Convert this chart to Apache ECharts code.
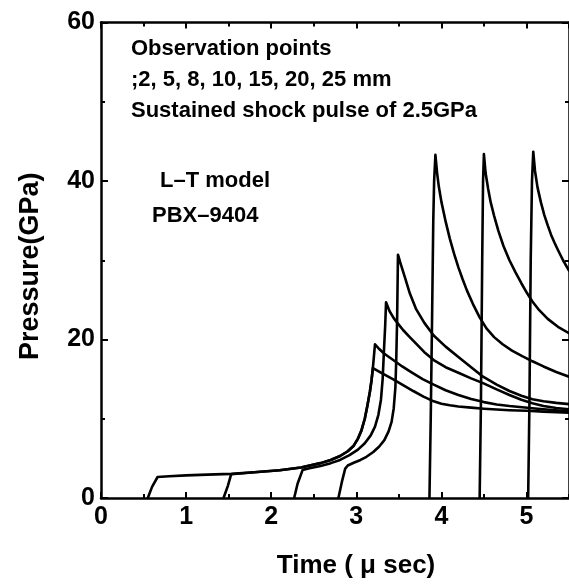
<!DOCTYPE html>
<html>
<head>
<meta charset="utf-8">
<script src="https://cdn.jsdelivr.net/npm/echarts@6/dist/echarts.min.js"></script>
<style>
html,body{margin:0;padding:0;background:#fff;}
#chart{width:569px;height:584px;}
</style>
</head>
<body>
<div id="chart"></div>
<script>
// ---- data (time in microseconds, pressure in GPa) ----
const gauge2mm = [[0.55,0],[0.60,1.4],[0.665,2.65],[0.8,2.75],[1.0,2.85],[1.25,2.95],[1.53,3.05],[1.8,3.25],[2.1,3.5],[2.35,3.85],[2.58,4.4],[2.7,4.8],[2.81,5.3],[2.9,5.9],[2.97,6.6],[3.02,7.5],[3.06,8.5],[3.1,10.0],[3.13,11.6],[3.16,13.4],[3.18,14.9],[3.195,16.4],[3.3,15.75],[3.43,15.0],[3.55,14.25],[3.67,13.5],[3.79,12.8],[3.91,12.2],[4.0,11.9],[4.1,11.7],[4.2,11.55],[4.35,11.4],[4.5,11.27],[4.65,11.17],[4.8,11.08],[5.0,11.0],[5.2,10.9],[5.5,10.75]];
const gauge5mm = [[1.44,0],[1.49,1.5],[1.53,3.0],[1.8,3.25],[2.1,3.5],[2.35,3.85],[2.58,4.4],[2.7,4.8],[2.81,5.3],[2.9,5.9],[2.97,6.6],[3.02,7.5],[3.06,8.5],[3.1,10.0],[3.13,11.6],[3.16,13.4],[3.18,14.9],[3.195,16.4],[3.205,17.6],[3.22,19.4],[3.27,18.8],[3.33,18.2],[3.43,17.45],[3.54,16.6],[3.65,15.85],[3.78,15.0],[3.91,14.3],[4.05,13.6],[4.2,13.0],[4.35,12.5],[4.5,12.1],[4.65,11.8],[4.8,11.6],[4.95,11.45],[5.1,11.3],[5.3,11.1],[5.5,10.95]];
const gauge8mm = [[2.27,0],[2.31,1.8],[2.37,3.55],[2.45,3.75],[2.58,4.05],[2.7,4.4],[2.81,4.8],[2.92,5.4],[3.02,6.1],[3.1,6.9],[3.17,7.9],[3.22,9.0],[3.26,10.5],[3.29,12.4],[3.31,15.0],[3.325,18.5],[3.34,21.8],[3.35,24.7],[3.39,23.6],[3.44,22.7],[3.49,22.0],[3.55,21.2],[3.62,20.4],[3.7,19.5],[3.8,18.4],[3.91,17.4],[4.05,16.5],[4.2,15.8],[4.35,15.1],[4.49,14.5],[4.65,13.7],[4.8,13.0],[4.94,12.4],[5.07,11.95],[5.2,11.6],[5.35,11.35],[5.5,11.2]];
const gauge10mm = [[2.79,0],[2.83,2.0],[2.87,3.7],[2.9,4.1],[2.97,4.45],[3.05,4.8],[3.12,5.2],[3.2,5.8],[3.27,6.5],[3.33,7.3],[3.38,8.4],[3.415,9.6],[3.44,11.3],[3.46,14.0],[3.47,17.5],[3.48,22.5],[3.49,30.7],[3.52,29.6],[3.57,27.9],[3.63,25.8],[3.7,23.9],[3.8,22.1],[3.91,20.5],[4.05,19.1],[4.2,17.8],[4.35,16.5],[4.49,15.3],[4.65,14.3],[4.8,13.5],[4.94,12.9],[5.07,12.45],[5.2,12.2],[5.35,12.0],[5.5,11.85]];
const gauge15mm = [[3.86,0],[3.875,10],[3.89,22],[3.905,35],[3.915,40],[3.93,43.3],[3.95,41.0],[3.97,39.3],[4.0,37.4],[4.05,34.9],[4.1,32.7],[4.15,30.8],[4.2,29.1],[4.25,27.6],[4.3,26.2],[4.37,24.5],[4.45,22.8],[4.53,21.4],[4.62,20.3],[4.72,19.4],[4.83,18.6],[4.95,17.9],[5.07,17.25],[5.2,16.6],[5.35,15.9],[5.5,15.3]];
const gauge20mm = [[4.45,0],[4.465,12],[4.48,30],[4.49,40],[4.50,43.4],[4.52,41.0],[4.55,39.0],[4.58,37.3],[4.62,35.6],[4.67,33.7],[4.73,31.8],[4.8,30.0],[4.87,28.5],[4.94,27.1],[5.01,25.8],[5.07,24.8],[5.15,23.7],[5.25,22.6],[5.37,21.6],[5.5,20.8]];
const gauge25mm = [[5.02,0],[5.035,12],[5.05,30],[5.065,40],[5.08,43.7],[5.10,41.3],[5.13,39.2],[5.17,37.3],[5.21,35.7],[5.25,34.4],[5.29,33.2],[5.33,32.2],[5.37,31.3],[5.43,30.0],[5.5,28.7]];

const gaugeNames = ['2 mm','5 mm','8 mm','10 mm','15 mm','20 mm','25 mm'];
const gaugeData = [gauge2mm, gauge5mm, gauge8mm, gauge10mm, gauge15mm, gauge20mm, gauge25mm];

const noteLines = ['Observation points', ';2, 5, 8, 10, 15, 20, 25 mm', 'Sustained shock pulse of 2.5GPa'];
const modelLines = ['L\u2013T model', 'PBX\u20139404'];
const xTitle = 'Time ( \u03bc sec)';
const yTitle = 'Pressure(GPa)';

// ---- chart ----
const FONT = '"Liberation Sans", Arial, Helvetica, sans-serif';
const chart = echarts.init(document.getElementById('chart'), null, {renderer: 'canvas'});

const lineStyle = {color: '#000', width: 2.5};
function xAxisDef(pos, interval, tickLen, showLine, showLabel, extra) {
  return Object.assign({
    type: 'value', position: pos, min: 0, max: 5.5, interval: interval,
    axisLine: {show: showLine, onZero: false, lineStyle: lineStyle},
    axisTick: {show: true, inside: true, length: tickLen, lineStyle: {color: '#000', width: 2}},
    axisLabel: {show: showLabel, showMaxLabel: false, color: '#000', fontSize: 25, fontWeight: 'bold', fontFamily: FONT, margin: 7},
    splitLine: {show: false}
  }, extra || {});
}
function yAxisDef(pos, showLabel, extra) {
  return Object.assign({
    type: 'value', position: pos, min: 0, max: 60, interval: 20,
    axisLine: {show: true, onZero: false, lineStyle: lineStyle},
    axisTick: {show: true, inside: true, length: 7, lineStyle: {color: '#000', width: 2}},
    minorTick: {show: true, splitNumber: 2, length: 4, lineStyle: {color: '#000', width: 2}},
    axisLabel: {show: showLabel, color: '#000', fontSize: 25, fontWeight: 'bold', fontFamily: FONT, margin: 6},
    splitLine: {show: false}, minorSplitLine: {show: false}
  }, extra || {});
}

const series = gaugeData.map((d, i) => ({
  name: gaugeNames[i], type: 'line', data: d, xAxisIndex: 0, yAxisIndex: 0,
  showSymbol: false, symbol: 'none', smooth: false, clip: true,
  lineStyle: {color: '#000', width: 2.6, join: 'round', cap: 'round'}
}));

const option = {
  animation: false,
  backgroundColor: '#fff',
  grid: {left: 101, top: 22.5, right: -6, bottom: 80.5, containLabel: false},
  xAxis: [
    xAxisDef('bottom', 1, 6, true, true, {
      name: xTitle, nameLocation: 'middle', nameGap: 55,
      nameTextStyle: {color: '#000', fontSize: 26, fontWeight: 'bold', fontFamily: FONT, padding: [0, 0, 0, 42]}
    }),
    xAxisDef('bottom', 0.5, 4, false, false),
    xAxisDef('top', 1, 6, true, false),
    xAxisDef('top', 0.5, 4, false, false)
  ],
  yAxis: [
    yAxisDef('left', true, {
      name: yTitle, nameLocation: 'middle', nameGap: 57,
      nameTextStyle: {color: '#000', fontSize: 27, fontWeight: 'bold', fontFamily: FONT, padding: [0, 12, 0, 0]}
    }),
    yAxisDef('right', false)
  ],
  series: series,
  graphic: [
    ...noteLines.map((t, i) => ({
      type: 'text', x: 131, y: 49 + i * 31.2, silent: true,
      style: {text: t, font: 'bold 22px ' + FONT, fill: '#000', verticalAlign: 'middle', align: 'left'}
    })),
    {type: 'text', x: 160, y: 181, silent: true,
     style: {text: modelLines[0], font: 'bold 22px ' + FONT, fill: '#000', verticalAlign: 'middle', align: 'left'}},
    {type: 'text', x: 152, y: 216, silent: true,
     style: {text: modelLines[1], font: 'bold 22px ' + FONT, fill: '#000', verticalAlign: 'middle', align: 'left'}}
  ]
};
chart.setOption(option);
</script>
</body>
</html>
